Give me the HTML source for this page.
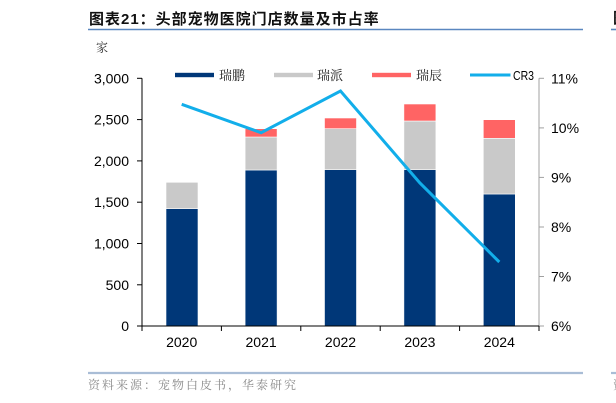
<!DOCTYPE html>
<html>
<head>
<meta charset="utf-8">
<style>
  html, body { margin: 0; padding: 0; background: #ffffff; }
  body { width: 616px; height: 403px; overflow: hidden; }
  svg { display: block; }
  .num { font-family: "Liberation Sans", Arial, sans-serif; font-size: 14px; fill: #000; }
  .cjk { font-family: "Liberation Serif", "Noto Serif CJK SC", serif; }
</style>
</head>
<body>
<svg width="616" height="403" viewBox="0 0 616 403" xmlns="http://www.w3.org/2000/svg">
  <!-- Title -->
  <text x="89" y="24" font-family="'Liberation Sans', 'Noto Sans CJK SC', sans-serif" font-weight="bold" font-size="15" letter-spacing="1" fill="#111">图表21：头部宠物医院门店数量及市占率</text>
  <line x1="88" y1="29.5" x2="583" y2="29.5" stroke="#5A87C0" stroke-width="1.6"/>
  <!-- right edge fragments -->
  <text x="613" y="23" font-family="'Liberation Sans', 'Noto Sans CJK SC', sans-serif" font-weight="bold" font-size="15" fill="#111">图</text>
  <line x1="611" y1="29.5" x2="616" y2="29.5" stroke="#5A87C0" stroke-width="1.6"/>

  <!-- unit -->
  <text x="96" y="51.5" class="cjk" font-size="12" fill="#333">家</text>

  <!-- Bars -->
  <g stroke="#ffffff" stroke-width="0.6">
    <!-- 2020 -->
    <rect x="166" y="208.7" width="32" height="117.3" fill="#003778"/>
    <rect x="166" y="182.3" width="32" height="26.4" fill="#C9C9C9"/>
    <!-- 2021 -->
    <rect x="245.1" y="170" width="32" height="156" fill="#003778"/>
    <rect x="245.1" y="137" width="32" height="33" fill="#C9C9C9"/>
    <rect x="245.1" y="128.7" width="32" height="8.3" fill="#FF6464"/>
    <!-- 2022 -->
    <rect x="324.5" y="169.7" width="32" height="156.3" fill="#003778"/>
    <rect x="324.5" y="128.7" width="32" height="41" fill="#C9C9C9"/>
    <rect x="324.5" y="118" width="32" height="10.7" fill="#FF6464"/>
    <!-- 2023 -->
    <rect x="403.9" y="169.7" width="32" height="156.3" fill="#003778"/>
    <rect x="403.9" y="121" width="32" height="48.7" fill="#C9C9C9"/>
    <rect x="403.9" y="104" width="32" height="17" fill="#FF6464"/>
    <!-- 2024 -->
    <rect x="483.3" y="194" width="32" height="132" fill="#003778"/>
    <rect x="483.3" y="138.3" width="32" height="55.7" fill="#C9C9C9"/>
    <rect x="483.3" y="119.7" width="32" height="18.6" fill="#FF6464"/>
  </g>

  <!-- CR3 line -->
  <polyline points="181.7,104.3 261.1,132.7 340.5,91 419.9,183 499.3,262" fill="none" stroke="#12AEEA" stroke-width="3" stroke-linejoin="miter" stroke-linecap="butt"/>

  <!-- Left axis -->
  <line x1="142" y1="78.3" x2="142" y2="326" stroke="#000" stroke-width="1"/>
  <g stroke="#000" stroke-width="1">
    <line x1="137" y1="78.3" x2="142" y2="78.3"/>
    <line x1="137" y1="119.6" x2="142" y2="119.6"/>
    <line x1="137" y1="160.9" x2="142" y2="160.9"/>
    <line x1="137" y1="202.2" x2="142" y2="202.2"/>
    <line x1="137" y1="243.5" x2="142" y2="243.5"/>
    <line x1="137" y1="284.8" x2="142" y2="284.8"/>
    <line x1="137" y1="326" x2="142" y2="326"/>
  </g>
  <g class="num" text-anchor="end">
    <text x="129" y="83.3">3,000</text>
    <text x="129" y="124.6">2,500</text>
    <text x="129" y="165.9">2,000</text>
    <text x="129" y="207.2">1,500</text>
    <text x="129" y="248.5">1,000</text>
    <text x="129" y="289.8">500</text>
    <text x="129" y="331">0</text>
  </g>

  <!-- Right axis -->
  <line x1="539" y1="78.3" x2="539" y2="326" stroke="#A0A0A0" stroke-width="1"/>
  <g stroke="#A0A0A0" stroke-width="1">
    <line x1="539" y1="78.3" x2="544" y2="78.3"/>
    <line x1="539" y1="127.9" x2="544" y2="127.9"/>
    <line x1="539" y1="177.4" x2="544" y2="177.4"/>
    <line x1="539" y1="227" x2="544" y2="227"/>
    <line x1="539" y1="276.5" x2="544" y2="276.5"/>
    <line x1="539" y1="326" x2="544" y2="326"/>
  </g>
  <g class="num">
    <text x="551" y="83.3">11%</text>
    <text x="551" y="132.9">10%</text>
    <text x="551" y="182.4">9%</text>
    <text x="551" y="232">8%</text>
    <text x="551" y="281.5">7%</text>
    <text x="551" y="331">6%</text>
  </g>

  <!-- X axis -->
  <line x1="142" y1="326" x2="539" y2="326" stroke="#000" stroke-width="1"/>
  <g stroke="#000" stroke-width="1">
    <line x1="142" y1="326" x2="142" y2="331"/>
    <line x1="221.4" y1="326" x2="221.4" y2="331"/>
    <line x1="300.8" y1="326" x2="300.8" y2="331"/>
    <line x1="380.2" y1="326" x2="380.2" y2="331"/>
    <line x1="459.6" y1="326" x2="459.6" y2="331"/>
    <line x1="539" y1="326" x2="539" y2="331"/>
  </g>
  <g class="num" text-anchor="middle">
    <text x="181.7" y="347">2020</text>
    <text x="261.1" y="347">2021</text>
    <text x="340.5" y="347">2022</text>
    <text x="419.9" y="347">2023</text>
    <text x="499.3" y="347">2024</text>
  </g>

  <!-- Legend -->
  <rect x="175" y="72.8" width="39" height="4.4" fill="#003778"/>
  <text x="219" y="80" class="cjk" font-size="13" fill="#222">瑞鹏</text>
  <rect x="274" y="72.8" width="39" height="4.4" fill="#C9C9C9"/>
  <text x="317" y="80" class="cjk" font-size="13" fill="#222">瑞派</text>
  <rect x="372" y="72.8" width="39" height="4.4" fill="#FF6464"/>
  <text x="416" y="80" class="cjk" font-size="13" fill="#222">瑞辰</text>
  <line x1="470" y1="75" x2="510.5" y2="75" stroke="#12AEEA" stroke-width="3"/>
  <text x="513" y="80" font-family="'Liberation Sans', Arial, sans-serif" font-size="13" textLength="21" lengthAdjust="spacingAndGlyphs" fill="#000">CR3</text>

  <!-- Footer -->
  <line x1="88" y1="373" x2="583" y2="373" stroke="#A9BDD6" stroke-width="2.2"/>
  <line x1="611" y1="373" x2="616" y2="373" stroke="#A9BDD6" stroke-width="2.2"/>
  <text x="88" y="389" class="cjk" font-size="12" letter-spacing="2" fill="#8A8A8A">资料来源：宠物白皮书，华泰研究</text>
  <text x="613" y="389" class="cjk" font-size="12" fill="#8A8A8A">资</text>
</svg>
</body>
</html>
